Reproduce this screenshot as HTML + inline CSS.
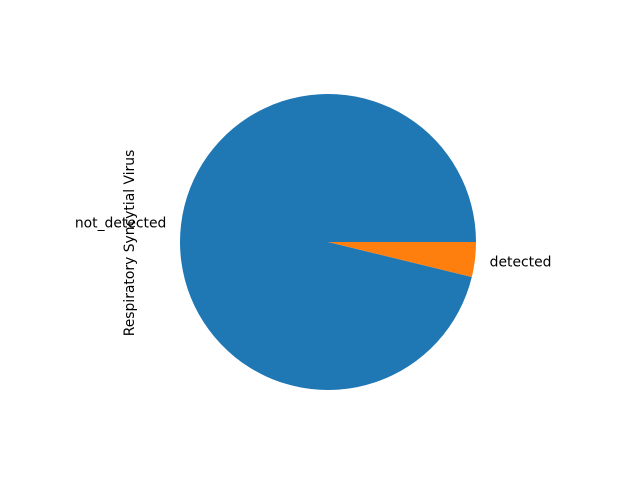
<!DOCTYPE html>
<html><head><meta charset="utf-8"><style>
html,body{margin:0;padding:0;background:#fff;}
svg{display:block;font-family:"DejaVu Sans","Liberation Sans",sans-serif;}
</style></head>
<body>
<svg id="chart" width="640" height="480" viewBox="0 0 640 480">
<rect width="640" height="480" fill="#fff"/>
<g id="slices"></g>
<g id="labels"></g>
<text x="0" y="0" transform="translate(134,243) rotate(-90)" text-anchor="middle" font-size="13.9" fill="#000">Respiratory Syncytial Virus</text>
</svg>
<script>
const categories = ["not_detected", "detected"];
const values = [962, 38];
const colors = ["#1f77b4", "#ff7f0e"];
const cx = 328, cy = 242, r = 148;
const ns = "http://www.w3.org/2000/svg";
const total = values.reduce((a,b)=>a+b,0);
let start = 0;
const gS = document.getElementById('slices'), gL = document.getElementById('labels');
values.forEach((v,i)=>{
  const sweep = v/total*2*Math.PI;
  const a0 = start, a1 = start+sweep;
  const x0 = cx + r*Math.cos(a0), y0 = cy - r*Math.sin(a0);
  const x1 = cx + r*Math.cos(a1), y1 = cy - r*Math.sin(a1);
  const large = sweep > Math.PI ? 1 : 0;
  const p = document.createElementNS(ns,'path');
  p.setAttribute('d',`M${cx},${cy} L${x0},${y0} A${r},${r} 0 ${large} 0 ${x1},${y1} Z`);
  p.setAttribute('fill',colors[i]);
  
  
  gS.appendChild(p);
  const mid = (a0+a1)/2;
  const lx = cx + 1.1*r*Math.cos(mid), ly = cy - 1.1*r*Math.sin(mid) + 1;
  const t = document.createElementNS(ns,'text');
  t.setAttribute('x',lx); t.setAttribute('y',ly);
  t.setAttribute('text-anchor', Math.cos(mid) < 0 ? 'end' : 'start');
  t.setAttribute('dominant-baseline','central');
  t.setAttribute('font-size','13.9');
  t.textContent = categories[i];
  
  
  gL.appendChild(t);
  start = a1;
});
</script>
</body></html>
